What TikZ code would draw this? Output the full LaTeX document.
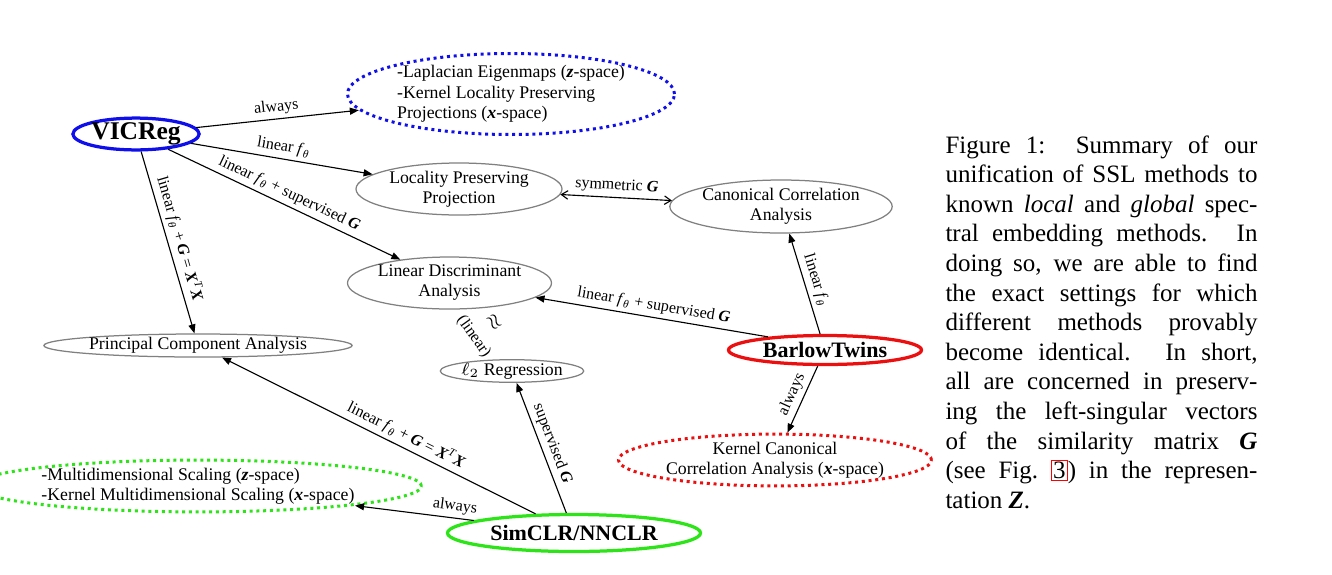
\documentclass[tikz,border=0pt]{standalone}
\usepackage{fontspec}
\setmainfont{Liberation Serif}
\usetikzlibrary{shapes.geometric, arrows.meta}

\definecolor{vicblue}{RGB}{15,15,235}
\definecolor{barlowred}{RGB}{235,15,15}
\definecolor{simgreen}{RGB}{45,228,25}

\newcommand{\bG}{\textbf{\textit{G}}}
\newcommand{\bX}{\textbf{\textit{X}}}
\newcommand{\bZ}{\textbf{\textit{Z}}}
\newcommand{\bz}{\textbf{\textit{z}}}
\newcommand{\bx}{\textbf{\textit{x}}}
\newcommand{\ftheta}{\textit{f}\textsubscript{\textit{θ}}}

\def\px{0.4pt}

\tikzset{
  dims/.style 2 args={minimum width=#1*\px, minimum height=#2*\px},
  method/.style={ellipse, draw, line width=1.3pt, inner sep=0pt,
    font=\fontsize{8.8}{10}\selectfont\bfseries},
  spectral/.style={ellipse, draw=gray, line width=0.5pt, inner sep=0pt,
    align=center, font=\fontsize{7.1}{8}\selectfont},
  kernel/.style={ellipse, draw, line width=1.2pt, dash pattern=on 1.2pt off 1.5pt,
    inner sep=0pt, font=\fontsize{7.1}{8.2}\selectfont},
  link/.style={-{Triangle[length=3.6pt,width=2.8pt]}, line width=0.45pt},
  duo/.style={{Straight Barb[length=2.6pt,width=3.4pt]}-{Straight Barb[length=2.6pt,width=3.4pt]}, line width=0.45pt},
  cond/.style={font=\fontsize{6.4}{7.4}\selectfont, sloped, inner sep=1.5pt},
}

\begin{document}
\begin{tikzpicture}[x=\px, y=-\px]
  \useasboundingbox (0,0) rectangle (1332,574);

  \node[method, draw=vicblue, dims={125}{31}, font=\fontsize{10.2}{11}\selectfont\bfseries] (vicreg) at (136,134) {VICReg};
  \node[method, draw=barlowred, dims={193}{29}] (barlow) at (825,350) {BarlowTwins};
  \node[method, draw=simgreen, dims={253}{37}] (simclr) at (574,533) {SimCLR/NNCLR};

  \node[spectral, dims={206}{52}] (lpp) at (459,189) {Locality Preserving\\Projection};
  \node[spectral, dims={222}{53}] (cca) at (781,206.5) {Canonical Correlation\\Analysis};
  \node[spectral, dims={204}{52}] (lda) at (449.5,283) {Linear Discriminant\\Analysis};
  \node[spectral, dims={308}{23}] (pca) at (198,345.5) {Principal Component Analysis};
  \node[spectral, dims={142}{18.5}] (ltwo) at (512,371) {$\ell_2$ Regression};

  \node[kernel, draw=vicblue, dims={327}{81}, align=left] (lem) at (511,94)
    {-Laplacian Eigenmaps (\bz-space)\\-Kernel Locality Preserving\\Projections (\bx-space)};
  \node[kernel, draw=barlowred, dims={313}{51}, align=center] (kcca) at (775,460)
    {Kernel Canonical\\Correlation Analysis (\bx-space)};
  \node[kernel, draw=simgreen, dims={447}{46}, align=left] (mds) at (198,486)
    {-Multidimensional Scaling (\bz-space)\\-Kernel Multidimensional Scaling (\bx-space)};

  \draw[link] (vicreg) -- (lem) node[cond, midway, above] {always};
  \draw[link] (vicreg) -- (lpp) node[cond, midway, above] {linear \ftheta};
  \draw[link] (vicreg) -- (lda) node[cond, midway, above] {linear \ftheta{} + supervised \bG};
  \draw[link] (vicreg) -- (pca) node[cond, midway, above] {linear \ftheta{} + \bG{} = \bX\textsuperscript{\textit{T}}\bX};
  \draw[duo] (lpp) -- (cca) node[cond, midway, above] {symmetric \bG};
  \draw[link] (barlow) -- (cca) node[cond, midway, above] {linear \ftheta};
  \draw[link] (barlow.167) -- (lda) node[cond, midway, above] {linear \ftheta{} + supervised \bG};
  \draw[link] (barlow) -- (kcca) node[cond, midway, above] {always};
  \draw[link] (simclr) -- (pca) node[cond, pos=0.43, above] {linear \ftheta{} + \bG{} = \bX\textsuperscript{\textit{T}}\bX};
  \draw[link] (simclr) -- (ltwo) node[cond, midway, above] {supervised \bG};
  \draw[link] (simclr) -- (mds) node[cond, pos=0.17, above] {always};
  \path (lda) -- (ltwo)
    node[cond, pos=0.42, below=0pt] (lin) {(linear)}
    node[cond, pos=0.42, above=1.5pt, font=\fontsize{8}{8}\selectfont] (approx) {$\approx$};

  % caption
  \node[anchor=north west, inner sep=0pt, text width=124.8pt, align=justify,
    font=\fontsize{10}{11.84}\selectfont] (caption) at (945,135)
    {Figure 1:\ \ Summary of our\linebreak
     unification of SSL methods to\linebreak
     known \textit{local} and \textit{global} spec-\linebreak
     tral embedding methods. In\linebreak
     doing so, we are able to find\linebreak
     the exact settings for which\linebreak
     different methods provably\linebreak
     become identical. In short,\linebreak
     all are concerned in preserv-\linebreak
     ing the left-singular vectors\linebreak
     of the similarity matrix \bG\linebreak
     (see Fig.\ {\fboxsep=0.5pt\fboxrule=0.4pt\fcolorbox{red}{white}{3}}) in the represen-\linebreak
     tation \bZ.};
\end{tikzpicture}
\end{document}
